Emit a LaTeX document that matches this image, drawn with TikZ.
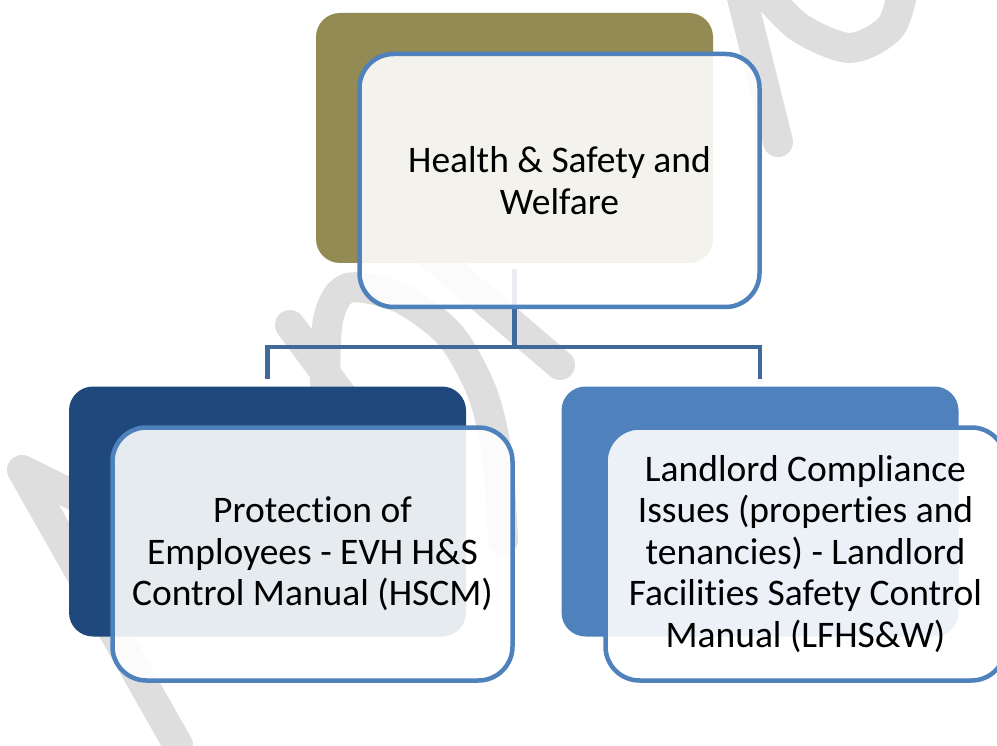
\documentclass[tikz,border=0pt]{standalone}
\usepackage{fontspec}
\setmainfont{Carlito}[Ligatures=NoCommon]
\definecolor{olivebox}{HTML}{948A54}
\definecolor{navybox}{HTML}{1F497D}
\definecolor{bluebox}{HTML}{4F81BD}
\definecolor{linkblue}{HTML}{40699C}
\definecolor{wmgrey}{HTML}{DEDEDE}
\tikzset{
  back/.style={rounded corners=24pt, inner sep=0pt, minimum width=397pt, minimum height=250pt},
  front/.style={draw=bluebox, line width=4.5pt, fill=white, fill opacity=0.89, text opacity=1,
    rounded corners=34pt, inner sep=0pt, minimum width=400pt, minimum height=253pt,
    align=center, font=\fontsize{37.5}{41.5}\selectfont},
  link/.style={draw=linkblue, line width=4.5pt},
  wmark/.style={draw=wmgrey, line width=30pt, line cap=round, line join=round}
}
\begin{document}
\begin{tikzpicture}[x=1pt,y=-1pt]
  \useasboundingbox[fill=white] (0,0) rectangle (997,746);
  % watermark in the background
  \draw[wmark] (22,470) -- (178,745)  (22,470) -- (75,496);
  \draw[wmark] (290,325) -- (360,420);
  \draw[wmark] plot[smooth] coordinates {(325,400) (328,320) (348,288) (400,298) (450,335) (482,392) (497,455) (503,540)};
  \draw[wmark] (420,245) -- (560,365);
  \draw[wmark] (740,-10) -- (778,142);
  \draw[wmark] plot[smooth] coordinates {(762,-10) (800,28) (850,48) (890,28) (903,-10)};
  % boxes behind
  \node[back, fill=olivebox] (hswback) at (514.5,138) {};
  \node[back, fill=navybox] (empback) at (267.5,511.5) {};
  \node[back, fill=bluebox] (lldback) at (760,511.5) {};
  \coordinate (bus) at (514.5,347);
  \draw[link] ([yshift=-6pt]hswback.south) -- (bus);
  \draw[link] ([yshift=7pt]empback.north) |- (bus) -| ([yshift=7pt]lldback.north);
  % boxes in front
  \node[front] (hsw) at (559.5,180.5) {Health \& Safety and\\Welfare};
  \node[front] (emp) at (312.5,554) {Protection of\\Employees - EVH H\&S\\Control Manual (HSCM)};
  \node[front] (lld) at (805.5,554) {Landlord Compliance\\Issues (properties and\\tenancies) - Landlord\\Facilities Safety Control\\Manual (LFHS\&W)};
\end{tikzpicture}
\end{document}
